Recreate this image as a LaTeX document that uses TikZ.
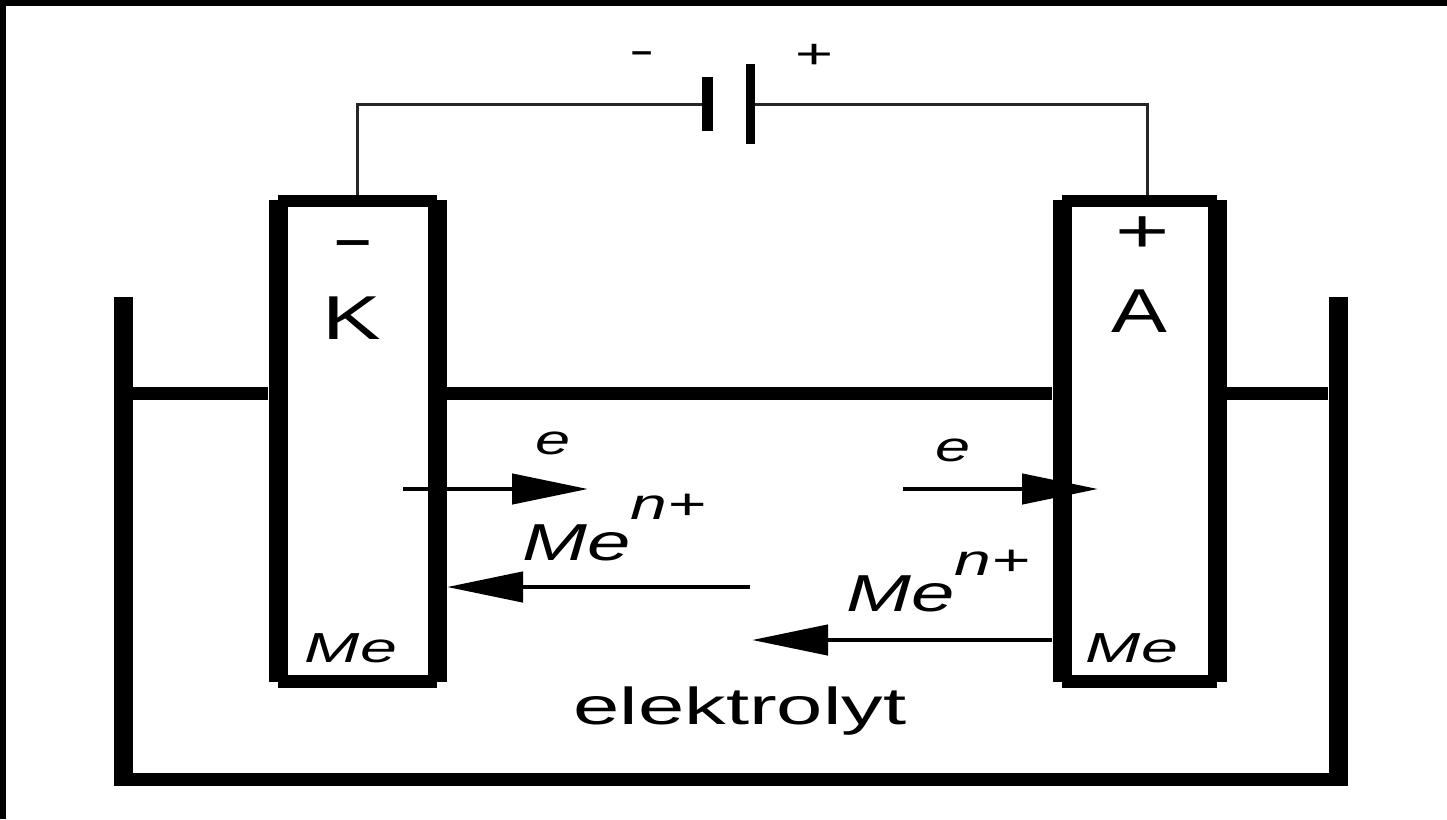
\documentclass[tikz,border=0pt]{standalone}
\usepackage{fontspec}
\setmainfont{Liberation Sans}
\usetikzlibrary{arrows.meta}
\tikzset{
  cell/.style={line width=19pt},
  level/.style={line width=13pt},
  wire/.style={line width=3pt,black!85},
  plate/.style={fill=black,inner sep=0pt},
  drift/.style={line width=4.5pt,-{Triangle[length=76pt,width=30pt]}},
  stretch/.style={inner sep=0pt,xscale=#1,transform shape}
}
\newcommand{\bigfs}{\fontsize{62}{64}\selectfont}
\newcommand{\midfs}{\fontsize{42}{44}\selectfont}
\newcommand{\ionlabel}[1]{\fontsize{52}{54}\selectfont\itshape Me\raisebox{#1}{\fontsize{44}{46}\selectfont n+}}

\begin{document}
\begin{tikzpicture}[x=1pt,y=-1pt]
        \useasboundingbox (0,0) rectangle (1447,819);
        \fill[black] (0,0) rectangle (1447,6);
        \fill[black] (0,0) rectangle (6,819);
        % vessel
        \draw[cell] (123,297)--(123,786);
        \draw[cell] (1338,297)--(1338,786);
        \draw[level] (114,779.5)--(1347,779.5);
        \draw[level] (133,393)--(268,393);
        \draw[level] (447,393)--(1052,393);
        \draw[level] (1227,393)--(1328,393);
        % electrodes
        \foreach \xl/\xr in {278/437,1062/1217}{
          \draw[cell] (\xl,200)--(\xl,682);
          \draw[cell] (\xr,200)--(\xr,682);
          \draw[line width=12pt] (\xl,201)--(\xr,201);
          \draw[line width=13pt] (\xl,681)--(\xr,681);
        }
        \coordinate (kath) at (357,195);
        \coordinate (anod) at (1147,195);
        % battery
        \node[plate,minimum width=11pt,minimum height=54pt] (minusplate) at (707.5,104) {};
        \node[plate,minimum width=9pt,minimum height=80pt] (plusplate) at (750,104) {};
        \draw[wire] (kath) |- (minusplate.west);
        \draw[wire] (anod) |- (plusplate.east);
        \node[stretch=1.8] (polminus) at (642,58) {\midfs -};
        \node[stretch=1.55] (polplus) at (814,56) {\midfs +};
        % labels
        \node[stretch=2.1] (kathsign) at (353,250) {\bigfs -};
        \node[stretch=1.5] (anodsign) at (1143,235) {\bigfs +};
        \node[stretch=1.42] (kathname) at (352,318) {\bigfs K};
        \node[stretch=1.35] (anodname) at (1139,311) {\bigfs A};
        \foreach \p/\n in {(351,648)/kathme,(1132,648)/anodme}
          \node[stretch=1.58] (\n) at \p {\midfs\itshape Me};
        \node[stretch=1.5] (ekath) at (553,443) {\midfs\itshape e};
        \node[stretch=1.5] (eanod) at (953,450) {\midfs\itshape e};
        \node[stretch=1.5,anchor=base west] (ionkath) at (522,560) {\ionlabel{41pt}};
        \node[stretch=1.5,anchor=base west] (ionanod) at (846,611) {\ionlabel{36pt}};
        \node[stretch=1.6] (bath) at (740,711) {\fontsize{52}{56}\selectfont elektrolyt};
        % arrows
        \coordinate (a1) at (403,489); \coordinate (a2) at (588,489);
        \coordinate (b1) at (903,489); \coordinate (b2) at (1098,489);
        \coordinate (c1) at (750,587); \coordinate (c2) at (447,587);
        \coordinate (d1) at (1052,640); \coordinate (d2) at (752,640);
        \foreach \s/\t in {a1/a2,b1/b2,c1/c2,d1/d2}
          \draw[drift] (\s)--(\t);
      \end{tikzpicture}
\end{document}
